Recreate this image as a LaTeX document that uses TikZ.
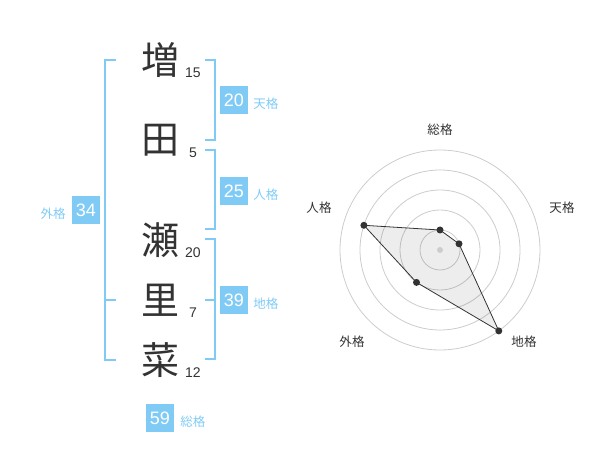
\documentclass[tikz,border=0pt]{standalone}
\usepackage{fontspec}
\setmainfont{Liberation Sans}
\newfontfamily\jp{Noto Sans CJK JP}
\definecolor{kblue}{HTML}{80CBF6}
\definecolor{kdark}{HTML}{333333}
\definecolor{kgrid}{HTML}{CCCCCC}
\begin{document}
\begin{tikzpicture}[x=0.75pt,y=-0.75pt,
 kanji/.style={font=\jp\fontsize{28.5}{30}\selectfont, text=kdark, inner sep=0},
 strokes/.style={font=\fontsize{10.5}{12}\selectfont, text=kdark, anchor=base, inner sep=0},
 scorebox/.style={fill=kblue, text=white, minimum width=21pt, minimum height=21pt, inner sep=0, font=\fontsize{13.5}{14}\selectfont},
 kaku/.style={font=\jp\fontsize{9.4}{10}\selectfont, text=kblue, inner sep=0},
 bracket/.style={draw=kblue, line width=1.5pt},
 ring/.style={draw=kgrid, line width=0.6pt},
 rlabel/.style={font=\jp\fontsize{9.4}{10}\selectfont, text=kdark, inner sep=0},
 dot/.style={circle, fill=kdark, inner sep=0, minimum size=5.25pt},
 cdot/.style={circle, fill=kgrid, inner sep=0, minimum size=4.5pt}
]
\useasboundingbox (0,0) rectangle (600,470);
% name characters
\node[kanji] (k1) at (160,60) {増};
\node[kanji] (k2) at (160,140) {田};
\node[kanji] (k3) at (160,240) {瀬};
\node[kanji] (k4) at (160,300) {里};
\node[kanji] (k5) at (160,360) {菜};
% stroke counts
\node[strokes] (n1) at (193,78) {15};
\node[strokes] (n2) at (193,158) {5};
\node[strokes] (n3) at (193,258) {20};
\node[strokes] (n4) at (193,318) {7};
\node[strokes] (n5) at (193,378) {12};
% brackets
\draw[bracket] (116,60) -- (105,60) -- (105,360) -- (116,360);
\draw[bracket] (105,300) -- (116,300);
\draw[bracket] (205,60) -- (215,60) -- (215,140) -- (205,140);
\draw[bracket] (205,150) -- (215,150) -- (215,229) -- (205,229);
\draw[bracket] (205,239) -- (215,239) -- (215,359) -- (205,359);
\draw[bracket] (205,300) -- (215,300);
% scores
\node[scorebox] (b1) at (234,100) {20};
\node[kaku, anchor=west] (l1) at (253,104) {天格};
\node[scorebox] (b2) at (234,191) {25};
\node[kaku, anchor=west] (l2) at (253,195) {人格};
\node[scorebox] (b3) at (234,300) {39};
\node[kaku, anchor=west] (l3) at (253,304) {地格};
\node[scorebox] (b4) at (86,210) {34};
\node[kaku, anchor=east] (l4) at (66,214) {外格};
\node[scorebox] (b5) at (160,418) {59};
\node[kaku, anchor=west] (l5) at (180,422) {総格};
% radar chart
\coordinate (c) at (440,250);
\foreach \r in {15,30,45,60,75} \draw[ring] (c) circle[radius=\r pt];
\coordinate (p1) at (440,230);
\coordinate (p2) at (459.0,243.8);
\coordinate (p3) at (498.8,330.9);
\coordinate (p4) at (416.5,282.4);
\coordinate (p5) at (363.9,225.3);
\filldraw[fill=black, fill opacity=0.07, draw=kdark, line width=0.6pt] (p1) -- (p2) -- (p3) -- (p4) -- (p5) -- cycle;
\node[cdot] (cd) at (c) {};
\node[dot] (d1) at (p1) {};
\node[dot] (d2) at (p2) {};
\node[dot] (d3) at (p3) {};
\node[dot] (d4) at (p4) {};
\node[dot] (d5) at (p5) {};
\node[rlabel] (r1) at (440,130) {総格};
\node[rlabel] (r2) at (562,208) {天格};
\node[rlabel] (r3) at (524,342) {地格};
\node[rlabel] (r4) at (352,342) {外格};
\node[rlabel] (r5) at (319,208) {人格};
\end{tikzpicture}
\end{document}
